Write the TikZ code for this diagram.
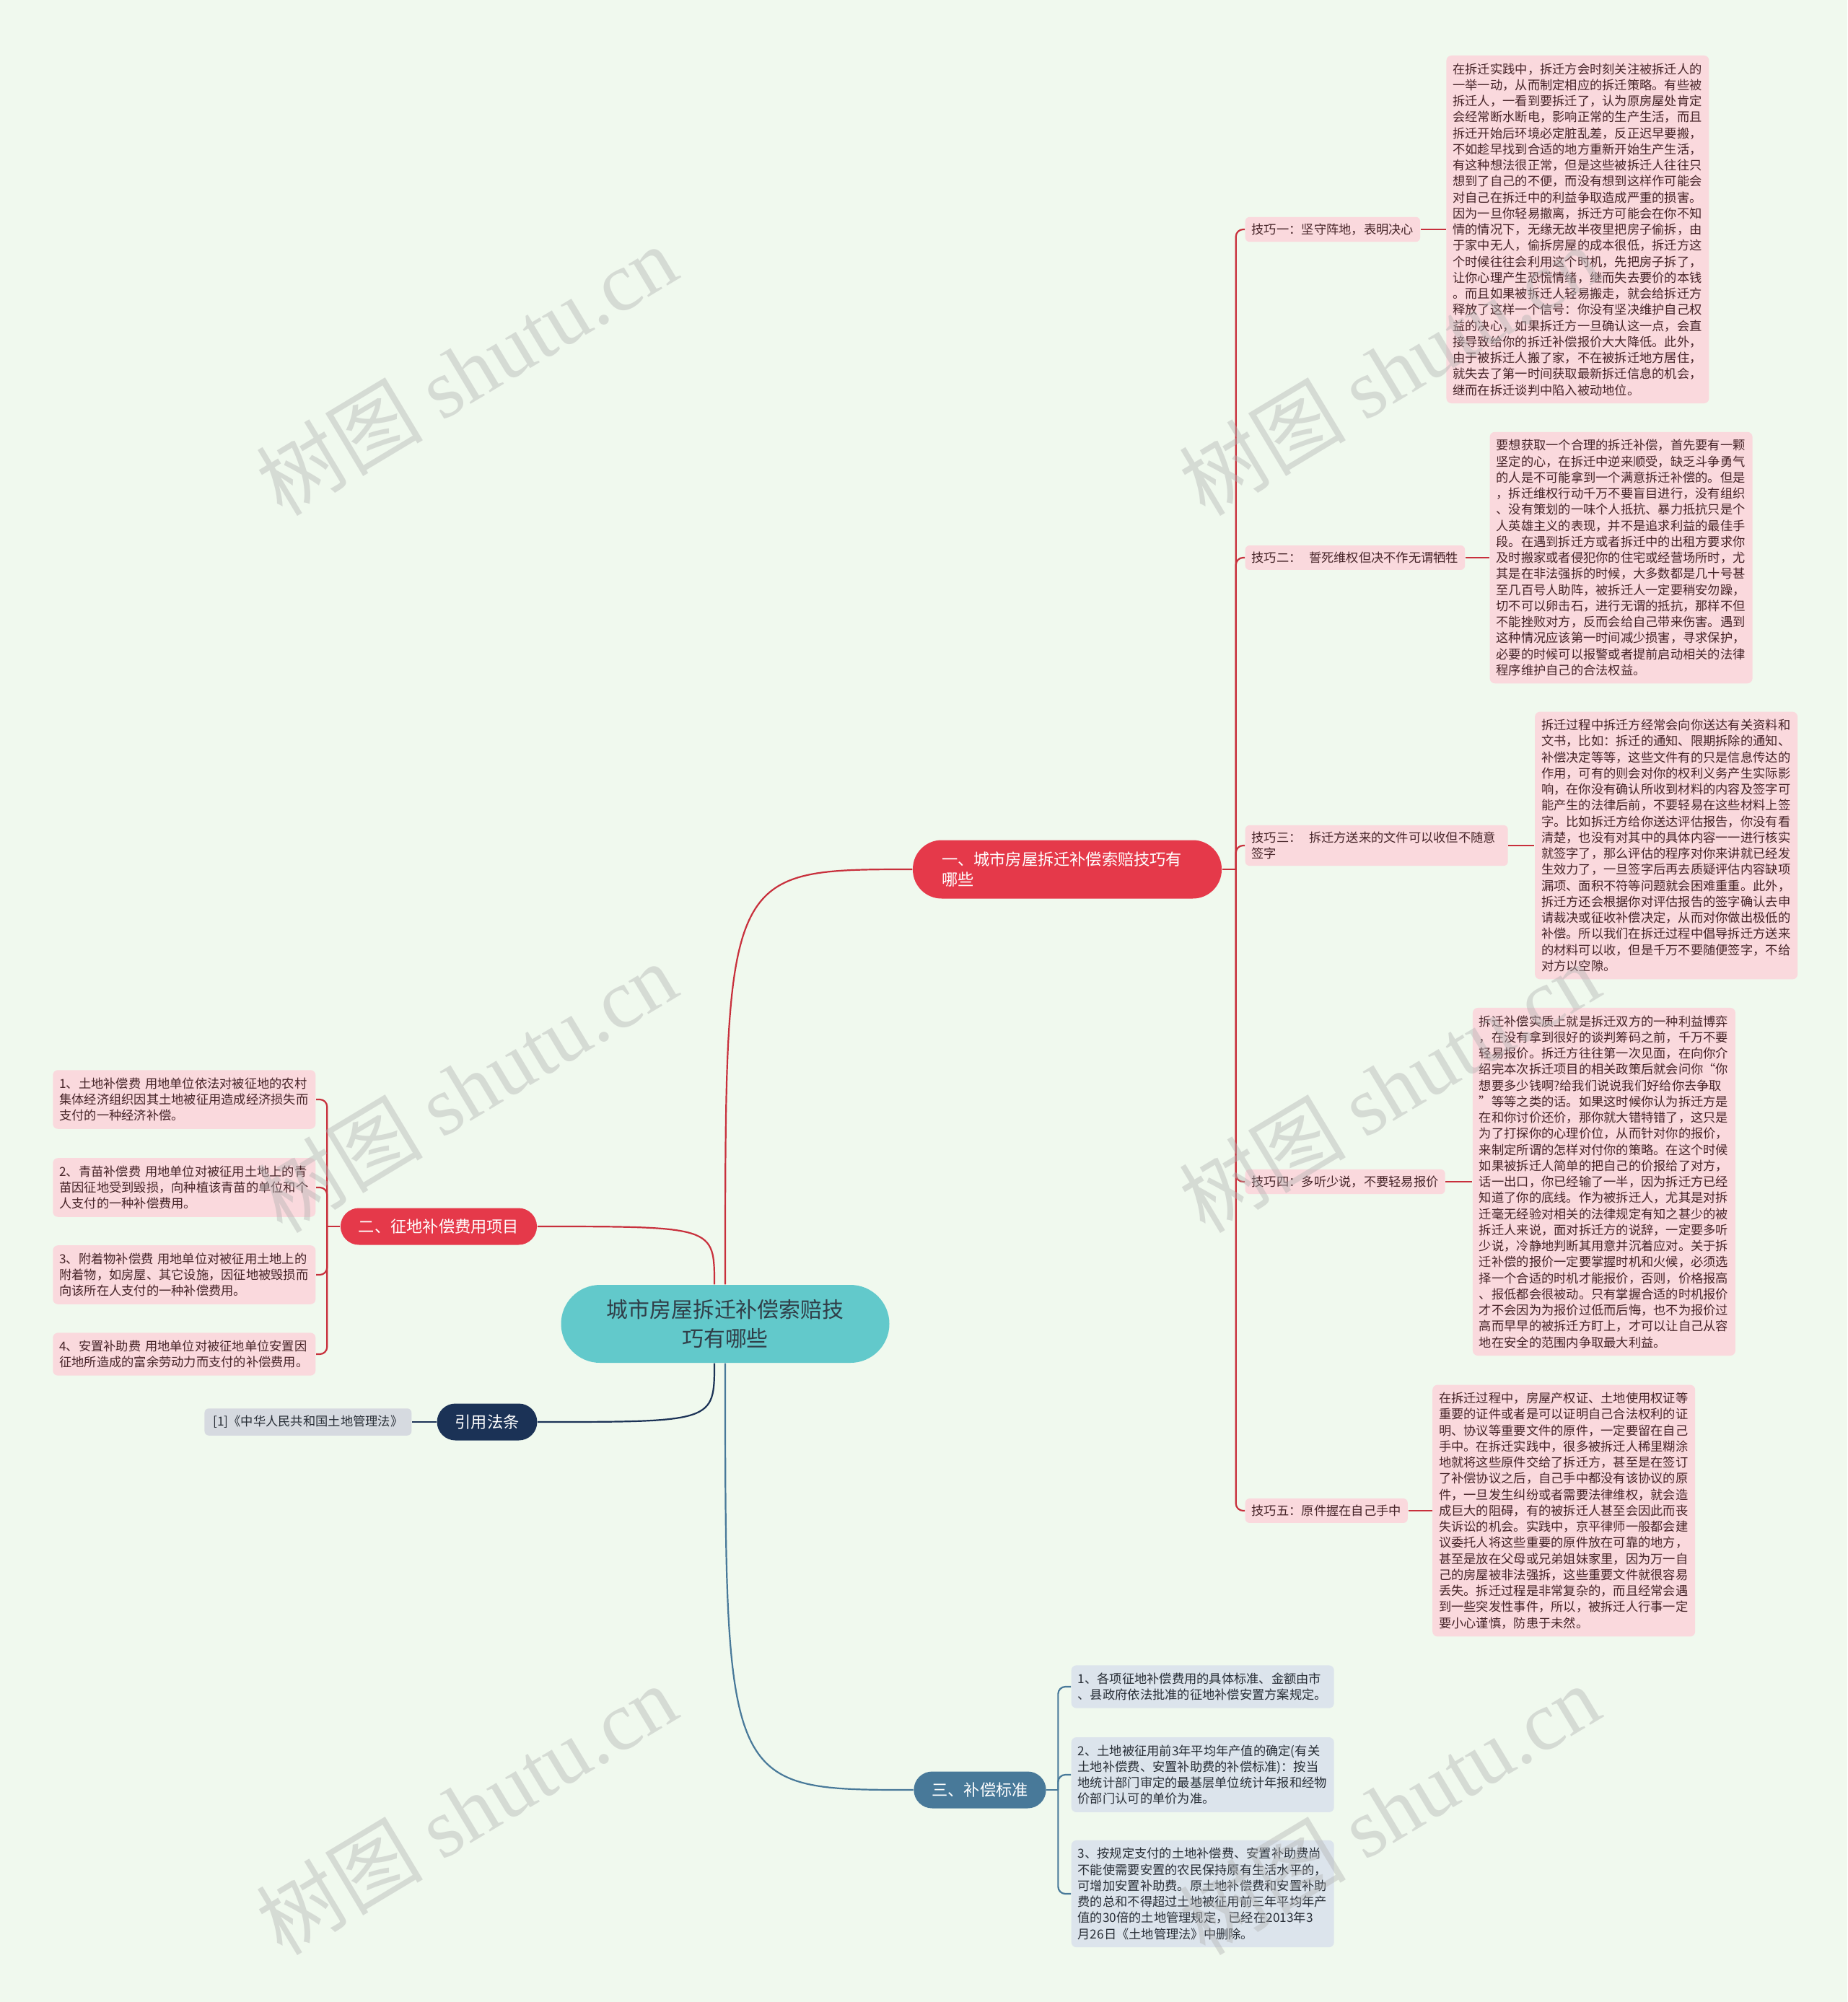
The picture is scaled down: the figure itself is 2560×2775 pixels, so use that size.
\documentclass[tikz,border=0pt]{standalone}
\usepackage{fontspec}
\setmainfont{Noto Sans CJK SC}
\newfontfamily\wmserif{Liberation Serif}
\usetikzlibrary{positioning}

\definecolor{bgmint}{RGB}{240,249,238}
\definecolor{rootteal}{RGB}{98,201,203}
\definecolor{roottext}{RGB}{48,62,72}
\definecolor{branchred}{RGB}{229,57,74}
\definecolor{linered}{RGB}{200,48,60}
\definecolor{pinkleaf}{RGB}{250,217,221}
\definecolor{leaftext}{RGB}{70,36,40}
\definecolor{citenavy}{RGB}{27,50,86}
\definecolor{stdsteel}{RGB}{72,121,153}
\definecolor{greyref}{RGB}{214,218,224}
\definecolor{stdleaf}{RGB}{220,228,236}
\definecolor{stdtext}{RGB}{40,46,54}

\begin{document}
\begin{tikzpicture}[
    x=0.1mm, y=-0.1mm,
    font=\fontsize{4.91}{6.33}\selectfont,
    rootnode/.style={fill=rootteal, text=roottext, rounded corners=5.4mm, minimum width=45.5mm, minimum height=10.8mm, align=center, font=\fontsize{8.5}{11.4}\selectfont},
    branchbox/.style={fill=branchred, text=white, rounded corners=2.55mm, minimum height=5.1mm, inner xsep=2.5mm, font=\fontsize{6.32}{8.05}\selectfont},
    citebox/.style={branchbox, fill=citenavy},
    stdbranch/.style={branchbox, fill=stdsteel},
    tipbox/.style={fill=pinkleaf, text=leaftext, rounded corners=0.6mm, inner sep=0.9mm, anchor=west},
    detail/.style={fill=pinkleaf, text=leaftext, rounded corners=0.7mm, inner xsep=0.9mm, inner ysep=1.05mm, text width=34.6mm, align=left},
    stdbox/.style={detail, fill=stdleaf, text=stdtext, anchor=west},
    feebox/.style={detail, anchor=east},
    refbox/.style={fill=greyref, text=stdtext, rounded corners=0.6mm, inner xsep=1.2mm, inner ysep=1mm, anchor=east},
    redline/.style={draw=linered, line width=0.22mm},
    navyline/.style={draw=citenavy, line width=0.22mm},
    steelline/.style={draw=stdsteel, line width=0.22mm},
    wmark/.style={text=gray!60, opacity=0.42, rotate=31, font=\fontsize{33}{33}\selectfont}
]

    \fill[bgmint] (0,0) rectangle (2560,2775);
    \useasboundingbox (0,0) rectangle (2560,2775);

    \node[rootnode] (root) at (1005,1835) {城市房屋拆迁补偿索赔技\\巧有哪些};

    \node[branchbox, rounded corners=4mm, minimum height=8.1mm, inner xsep=4mm, text width=34.8mm, align=left] (b1) at (1479,1205) {一、城市房屋拆迁补偿索赔技巧有\\哪些};
    \node[branchbox] (b2) at (608,1700) {二、征地补偿费用项目};
    \node[citebox] (cite) at (675,1971) {引用法条};
    \node[stdbranch] (b3) at (1358,2481) {三、补偿标准};

    \node[tipbox] (tip1) at (1725,318) {技巧一：坚守阵地，表明决心};
    \node[tipbox] (tip2) at (1725,773) {技巧二：\hspace{0.6em}誓死维权但决不作无谓牺牲};
    \node[tipbox, text width=34.6mm, align=left] (tip3) at (1725,1172) {技巧三：\hspace{0.6em}拆迁方送来的文件可以收但不随意\\签字};
    \node[tipbox] (tip4) at (1725,1638) {技巧四：多听少说，不要轻易报价};
    \node[tipbox] (tip5) at (1725,2094) {技巧五：原件握在自己手中};

    \node[detail, right=3.5mm of tip1] (t1text) {在拆迁实践中，拆迁方会时刻关注被拆迁人的\\
一举一动，从而制定相应的拆迁策略。有些被\\
拆迁人，一看到要拆迁了，认为原房屋处肯定\\
会经常断水断电，影响正常的生产生活，而且\\
拆迁开始后环境必定脏乱差，反正迟早要搬，\\
不如趁早找到合适的地方重新开始生产生活，\\
有这种想法很正常，但是这些被拆迁人往往只\\
想到了自己的不便，而没有想到这样作可能会\\
对自己在拆迁中的利益争取造成严重的损害。\\
因为一旦你轻易撤离，拆迁方可能会在你不知\\
情的情况下，无缘无故半夜里把房子偷拆，由\\
于家中无人，偷拆房屋的成本很低，拆迁方这\\
个时候往往会利用这个时机，先把房子拆了，\\
让你心理产生恐慌情绪，继而失去要价的本钱\\
。而且如果被拆迁人轻易搬走，就会给拆迁方\\
释放了这样一个信号：你没有坚决维护自己权\\
益的决心，如果拆迁方一旦确认这一点，会直\\
接导致给你的拆迁补偿报价大大降低。此外，\\
由于被拆迁人搬了家，不在被拆迁地方居住，\\
就失去了第一时间获取最新拆迁信息的机会，\\
继而在拆迁谈判中陷入被动地位。};

    \node[detail, right=3.3mm of tip2] (t2text) {要想获取一个合理的拆迁补偿，首先要有一颗\\
坚定的心，在拆迁中逆来顺受，缺乏斗争勇气\\
的人是不可能拿到一个满意拆迁补偿的。但是\\
，拆迁维权行动千万不要盲目进行，没有组织\\
、没有策划的一味个人抵抗、暴力抵抗只是个\\
人英雄主义的表现，并不是追求利益的最佳手\\
段。在遇到拆迁方或者拆迁中的出租方要求你\\
及时搬家或者侵犯你的住宅或经营场所时，尤\\
其是在非法强拆的时候，大多数都是几十号甚\\
至几百号人助阵，被拆迁人一定要稍安勿躁，\\
切不可以卵击石，进行无谓的抵抗，那样不但\\
不能挫败对方，反而会给自己带来伤害。遇到\\
这种情况应该第一时间减少损害，寻求保护，\\
必要的时候可以报警或者提前启动相关的法律\\
程序维护自己的合法权益。};

    \node[detail, right=3.6mm of tip3] (t3text) {拆迁过程中拆迁方经常会向你送达有关资料和\\
文书，比如：拆迁的通知、限期拆除的通知、\\
补偿决定等等，这些文件有的只是信息传达的\\
作用，可有的则会对你的权利义务产生实际影\\
响，在你没有确认所收到材料的内容及签字可\\
能产生的法律后前，不要轻易在这些材料上签\\
字。比如拆迁方给你送达评估报告，你没有看\\
清楚，也没有对其中的具体内容一一进行核实\\
就签字了，那么评估的程序对你来讲就已经发\\
生效力了，一旦签字后再去质疑评估内容缺项\\
漏项、面积不符等问题就会困难重重。此外，\\
拆迁方还会根据你对评估报告的签字确认去申\\
请裁决或征收补偿决定，从而对你做出极低的\\
补偿。所以我们在拆迁过程中倡导拆迁方送来\\
的材料可以收，但是千万不要随便签字，不给\\
对方以空隙。};

    \node[detail, right=3.7mm of tip4] (t4text) {拆迁补偿实质上就是拆迁双方的一种利益博弈\\
，在没有拿到很好的谈判筹码之前，千万不要\\
轻易报价。拆迁方往往第一次见面，在向你介\\
绍完本次拆迁项目的相关政策后就会问你“你\\
想要多少钱啊?给我们说说我们好给你去争取\\
”等等之类的话。如果这时候你认为拆迁方是\\
在和你讨价还价，那你就大错特错了，这只是\\
为了打探你的心理价位，从而针对你的报价，\\
来制定所谓的怎样对付你的策略。在这个时候\\
如果被拆迁人简单的把自己的价报给了对方，\\
话一出口，你已经输了一半，因为拆迁方已经\\
知道了你的底线。作为被拆迁人，尤其是对拆\\
迁毫无经验对相关的法律规定有知之甚少的被\\
拆迁人来说，面对拆迁方的说辞，一定要多听\\
少说，冷静地判断其用意并沉着应对。关于拆\\
迁补偿的报价一定要掌握时机和火候，必须选\\
择一个合适的时机才能报价，否则，价格报高\\
、报低都会很被动。只有掌握合适的时机报价\\
才不会因为为报价过低而后悔，也不为报价过\\
高而早早的被拆迁方盯上，才可以让自己从容\\
地在安全的范围内争取最大利益。};

    \node[detail, right=3.3mm of tip5] (t5text) {在拆迁过程中，房屋产权证、土地使用权证等\\
重要的证件或者是可以证明自己合法权利的证\\
明、协议等重要文件的原件，一定要留在自己\\
手中。在拆迁实践中，很多被拆迁人稀里糊涂\\
地就将这些原件交给了拆迁方，甚至是在签订\\
了补偿协议之后，自己手中都没有该协议的原\\
件，一旦发生纠纷或者需要法律维权，就会造\\
成巨大的阻碍，有的被拆迁人甚至会因此而丧\\
失诉讼的机会。实践中，京平律师一般都会建\\
议委托人将这些重要的原件放在可靠的地方，\\
甚至是放在父母或兄弟姐妹家里，因为万一自\\
己的房屋被非法强拆，这些重要文件就很容易\\
丢失。拆迁过程是非常复杂的，而且经常会遇\\
到一些突发性事件，所以，被拆迁人行事一定\\
要小心谨慎，防患于未然。};

    \node[feebox] (fee1) at (438,1524) {1、土地补偿费 用地单位依法对被征地的农村\\
集体经济组织因其土地被征用造成经济损失而\\
支付的一种经济补偿。};
    \node[feebox] (fee2) at (438,1646) {2、青苗补偿费 用地单位对被征用土地上的青\\
苗因征地受到毁损，向种植该青苗的单位和个\\
人支付的一种补偿费用。};
    \node[feebox] (fee3) at (438,1767) {3、附着物补偿费 用地单位对被征用土地上的\\
附着物，如房屋、其它设施，因征地被毁损而\\
向该所在人支付的一种补偿费用。};
    \node[feebox] (fee4) at (438,1877) {4、安置补助费 用地单位对被征地单位安置因\\
征地所造成的富余劳动力而支付的补偿费用。};

    \node[refbox] (law) at (571,1971) {[1]《中华人民共和国土地管理法》};

    \node[stdbox] (std1) at (1484,2338) {1、各项征地补偿费用的具体标准、金额由市\\
、县政府依法批准的征地补偿安置方案规定。};
    \node[stdbox] (std2) at (1484,2460) {2、土地被征用前3年平均年产值的确定(有关\\
土地补偿费、安置补助费的补偿标准)：按当\\
地统计部门审定的最基层单位统计年报和经物\\
价部门认可的单价为准。};
    \node[stdbox] (std3) at (1484,2625) {3、按规定支付的土地补偿费、安置补助费尚\\
不能使需要安置的农民保持原有生活水平的，\\
可增加安置补助费。原土地补偿费和安置补助\\
费的总和不得超过土地被征用前三年平均年产\\
值的30倍的土地管理规定，已经在2013年3\\
月26日《土地管理法》中删除。};

    \coordinate (rtop) at ([xshift=-1.5mm]root.north);
    \coordinate (rbot) at ([xshift=-1.5mm]root.south);
    \draw[redline] (root.north) .. controls (root.north |- b1.west) .. (b1.west);
    \draw[redline] (rtop) .. controls (rtop |- b2.east) .. (b2.east);
    \draw[navyline] (rbot) .. controls (rbot |- cite.east) .. (cite.east);
    \draw[steelline] (root.south) .. controls (root.south |- b3.west) .. (b3.west);

    \coordinate (fork1) at ([xshift=1.9mm]b1.east);
    \draw[redline] (b1.east) -- (fork1);
    \foreach \t in {tip1,tip2,tip3,tip4,tip5}
        \draw[redline, rounded corners=1mm] (fork1) |- (\t.west);
    \foreach \t in {1,...,5}
        \draw[redline] (tip\t) -- (t\t text);

    \coordinate (fork2) at ([xshift=-1.8mm]b2.west);
    \draw[redline] (b2.west) -- (fork2);
    \foreach \t in {fee1,fee2,fee3,fee4}
        \draw[redline, rounded corners=1mm] (fork2) |- (\t.east);

    \draw[navyline] (cite) -- (law);

    \coordinate (fork3) at ([xshift=1.6mm]b3.east);
    \draw[steelline] (b3.east) -- (fork3);
    \foreach \t in {std1,std2,std3}
        \draw[steelline, rounded corners=1mm] (fork3) |- (\t.west);

    \foreach \wx/\wy [count=\i] in {646/513, 1925/513, 646/1507, 1925/1507, 646/2508, 1925/2508}
        \node[wmark] (wm\i) at (\wx,\wy) {树图 {\wmserif shutu.cn}};

\end{tikzpicture}
\end{document}
